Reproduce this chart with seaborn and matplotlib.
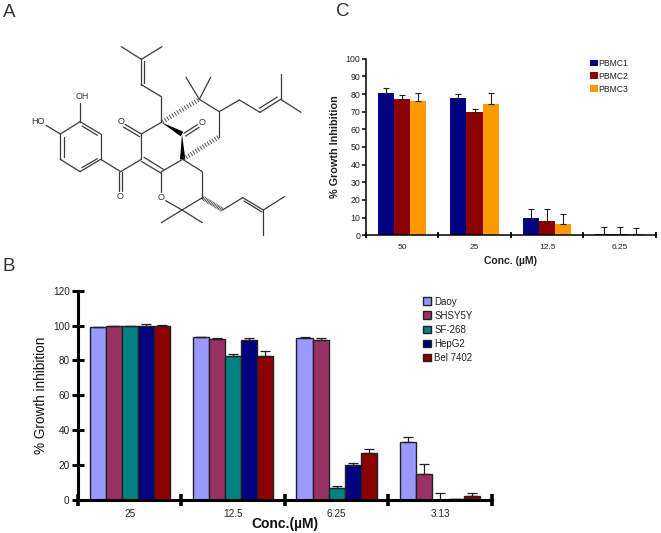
#growth inhibition panels with the compound structure on top left
import numpy as np
import pandas as pd
import matplotlib
matplotlib.use('Agg')
import matplotlib.pyplot as plt
import seaborn as sns

sns.set_theme(style='white')
plt.rcParams['font.family'] = ['Liberation Sans', 'DejaVu Sans']
plt.rcParams['text.color'] = '#222222'

W, H = 661, 533

#panel B data
conc_b = ['25', '12.5', '6.25', '3.13']
lines_b = ['Daoy', 'SHSY5Y', 'SF-268', 'HepG2', 'Bel 7402']
colors_b = ['#9999ff', '#993366', '#008080', '#000080', '#8b0000']
daoy = [99, 93.3, 93, 33]
shsy5y = [99.5, 92.5, 91.8, 15]
sf268 = [99.5, 82.5, 6.7, 0.2]
hepg2 = [100, 92, 20.3, 0.4]
bel7402 = [100, 82.8, 26.8, 2.1]
daoy_err = [0.2, 0.3, 0.6, 3.2]
shsy5y_err = [0.3, 0.5, 1.3, 5.5]
sf268_err = [0.3, 1, 1.5, 3.9]
hepg2_err = [1, 1, 1.1, 0.2]
bel7402_err = [0.4, 2.8, 2.7, 2.1]

#panel C data
conc_c = ['50', '25', '12.5', '6.25']
lines_c = ['PBMC1', 'PBMC2', 'PBMC3']
colors_c = ['#000080', '#8b0000', '#ff9900']
pbmc1 = [80.8, 78, 9.6, 0.8]
pbmc2 = [77.4, 69.8, 7.9, 1]
pbmc3 = [76.2, 74.5, 6.4, 0.5]
pbmc1_err = [2.4, 2, 5.1, 3.7]
pbmc2_err = [2, 1.9, 7, 3.9]
pbmc3_err = [4.2, 6.3, 5.5, 3.7]

#structure, single bonds as x1, y1, x2, y2 on a 3x grid of the panel
single_bonds = [(240,365,302,402),(302,402,302,478),(302,478,240,515),(240,515,181,478),(181,478,181,402),(181,402,240,365),
	(181,402,138,376),(240,365,240,308),(302,478,362,515),(362,515,424,478),(424,478,424,402),(424,402,484,367),
	(484,367,484,290),(484,290,424,254),(424,178,364,140),(424,178,486,140),(548,478,484,515),(484,515,484,575),
	(497,602,546,630),(546,630,484,668),(546,630,607,668),(546,630,607,593),(607,593,607,515),(607,515,548,478),
	(668,630,728,593),(790,630,853,590),(790,630,790,706),(598,298,558,232),(598,298,632,232),(598,298,658,335),
	(658,335,718,300),(718,300,780,337),(842,298,842,222),(842,298,903,337),(658,335,658,410)]
double_lines = [(246,378,292,406),(191,412,191,470),(246,503,292,476),(358,515,358,573),(367,515,367,573),
	(424,484,484,520),(432,472,490,508),(424,402,375,373),(419,410,370,381),(424,254,424,178),(433,248,433,184),
	(552,400,592,374),(557,408,597,382),(728,593,790,630),(732,603,786,636),(780,337,842,298),(778,325,832,291)]
hashed_bonds = [(484,367,598,298),(548,478,658,410),(607,593,668,630)]
wedge_bonds = [(484,367,546,402),(546,402,548,478)]
atom_labels = [(115,365,'HO'),(248,290,'OH'),(362,365,'O'),(361,590,'O'),(484,592,'O'),(607,367,'O')]


def px_axes(x0, y0, x1, y1):
	return fig.add_axes([x0 / W, 1 - y1 / H, (x1 - x0) / W, (y1 - y0) / H])


def bar_panel(ax, conc, names, rows, errs, colors, width, edge, edge_lw, capsize, err_lw):
	df = pd.DataFrame({'conc': np.tile(conc, len(names)), 'line': np.repeat(names, len(conc)),
		'val': np.concatenate(rows)})
	sns.barplot(data=df, x='conc', y='val', hue='line', palette=colors, width=width, saturation=1, gap=0,
		edgecolor=edge, linewidth=edge_lw, errorbar=None, ax=ax)
	for cont, err in zip(ax.containers, errs):
		xs = [b.get_x() + b.get_width() / 2 for b in cont]
		ys = [b.get_height() for b in cont]
		ax.errorbar(xs, ys, yerr=[np.zeros(len(err)), err], fmt='none', ecolor='#222222', elinewidth=err_lw,
			capsize=capsize, capthick=err_lw, zorder=1)
	ax.set_xlim(-0.5, 3.5)
	sns.despine(ax=ax)
	ax.patch.set_alpha(0)


fig = plt.figure(figsize=(W / 100, H / 100), dpi=100)

#panel A
ax_a = px_axes(0, 0, 320, 260)
ax_a.set_xlim(0, 960)
ax_a.set_ylim(780, 0)
ax_a.axis('off')
bond_col = '#3a3a3a'
for x1, y1, x2, y2 in single_bonds + double_lines:
	ax_a.plot([x1, x2], [y1, y2], color=bond_col, lw=0.9, solid_capstyle='round')
for x1, y1, x2, y2 in hashed_bonds:
	#short strokes across the bond
	d = np.array([x2 - x1, y2 - y1], dtype=float)
	n = np.array([-d[1], d[0]]) / np.hypot(*d)
	for t in np.linspace(0.04, 0.96, 15):
		c = np.array([x1, y1]) + t * d
		ax_a.plot([c[0] - n[0] * 6, c[0] + n[0] * 6], [c[1] - n[1] * 6, c[1] + n[1] * 6], color=bond_col, lw=0.6)
for x1, y1, x2, y2 in wedge_bonds:
	d = np.array([x2 - x1, y2 - y1], dtype=float)
	n = np.array([-d[1], d[0]]) / np.hypot(*d)
	ax_a.fill([x1, x2 + n[0] * 8, x2 - n[0] * 8], [y1, y2 + n[1] * 8, y2 - n[1] * 8], color='black', lw=0)
for x, y, s in atom_labels:
	ax_a.text(x, y, s, fontsize=6.5, ha='center', va='center', color='#333333')

#panel B
ax_b = px_axes(78, 290.7, 491.7, 500)
bar_panel(ax_b, conc_b, lines_b, [daoy, shsy5y, sf268, hepg2, bel7402],
	[daoy_err, shsy5y_err, sf268_err, hepg2_err, bel7402_err], colors_b, 0.775, '#222222', 1, 3.6, 0.9)
ax_b.set_ylim(0, 120)
ax_b.set_yticks(np.arange(0, 121, 20))
for s in ['left', 'bottom']:
	ax_b.spines[s].set_linewidth(2.2)
	ax_b.spines[s].set_color('black')
ax_b.tick_params(axis='y', direction='inout', length=8, width=2.2, labelsize=7.2, pad=2, color='black', left=True, labelcolor='#222222')
ax_b.tick_params(axis='x', which='major', length=0, labelsize=7.2, pad=6.5, labelcolor='#222222')
ax_b.set_xticks(np.arange(-0.5, 4), minor=True)
ax_b.tick_params(axis='x', which='minor', direction='inout', length=9, width=2.6, color='black', bottom=True)
ax_b.set_xlabel('Conc.(µM)', fontsize=10, fontweight='bold', va='center', color='#111111')
ax_b.set_ylabel('% Growth inhibition', fontsize=9.8, va='center', color='#111111')
ax_b.xaxis.set_label_coords(0.5, -24 / 209.3)
ax_b.yaxis.set_label_coords(-37.3 / 413.7, 0.5)
sns.move_legend(ax_b, 'upper left', bbox_to_anchor=(423 / W, 1 - 296.5 / H), bbox_transform=fig.transFigure,
	frameon=False, title=None, fontsize=7, labelspacing=0.42, handlelength=0.8, handleheight=0.8, handletextpad=0.35,
	borderpad=0, borderaxespad=0)
for t in ax_b.get_legend().get_texts():
	t.set_color('#222222')

#panel C
ax_c = px_axes(365.7, 58.7, 656, 235.3)
bar_panel(ax_c, conc_c, lines_c, [pbmc1, pbmc2, pbmc3], [pbmc1_err, pbmc2_err, pbmc3_err], colors_c, 0.67,
	'none', 0, 2.4, 0.8)
ax_c.set_ylim(0, 100)
ax_c.set_yticks(np.arange(0, 101, 10))
for s in ['left', 'bottom']:
	ax_c.spines[s].set_linewidth(1.1)
	ax_c.spines[s].set_color('black')
ax_c.tick_params(axis='y', direction='out', length=3, width=1.1, labelsize=6.3, pad=1, color='black', left=True, labelcolor='#222222')
ax_c.tick_params(axis='x', which='major', length=0, labelsize=6, pad=6.5, labelcolor='#222222')
ax_c.set_xticks(np.arange(-0.5, 4), minor=True)
ax_c.tick_params(axis='x', which='minor', direction='inout', length=5, width=1.3, color='black', bottom=True)
ax_c.set_xlabel('Conc. (µM)', fontsize=7.5, fontweight='bold', va='center', color='#222222')
ax_c.set_ylabel('% Growth Inhibition', fontsize=7.8, fontweight='bold', va='center', color='#222222')
ax_c.xaxis.set_label_coords(0.5, -25.7 / 176.6)
ax_c.yaxis.set_label_coords(-31 / 290.3, 0.5)
sns.move_legend(ax_c, 'upper left', bbox_to_anchor=(589.5 / W, 1 - 59 / H), bbox_transform=fig.transFigure,
	frameon=False, title=None, fontsize=6.2, labelspacing=0.45, handlelength=0.95, handleheight=0.85, handletextpad=0.1,
	borderpad=0, borderaxespad=0)
for t in ax_c.get_legend().get_texts():
	t.set_color('#222222')

#panel letters
fig.text(3 / W, 1 - 17 / H, 'A', fontsize=13.5, color='#333333')
fig.text(3 / W, 1 - 271 / H, 'B', fontsize=13.5, color='#333333')
fig.text(336 / W, 1 - 16 / H, 'C', fontsize=13.5, color='#333333')

fig.savefig('out.png', dpi=100)
